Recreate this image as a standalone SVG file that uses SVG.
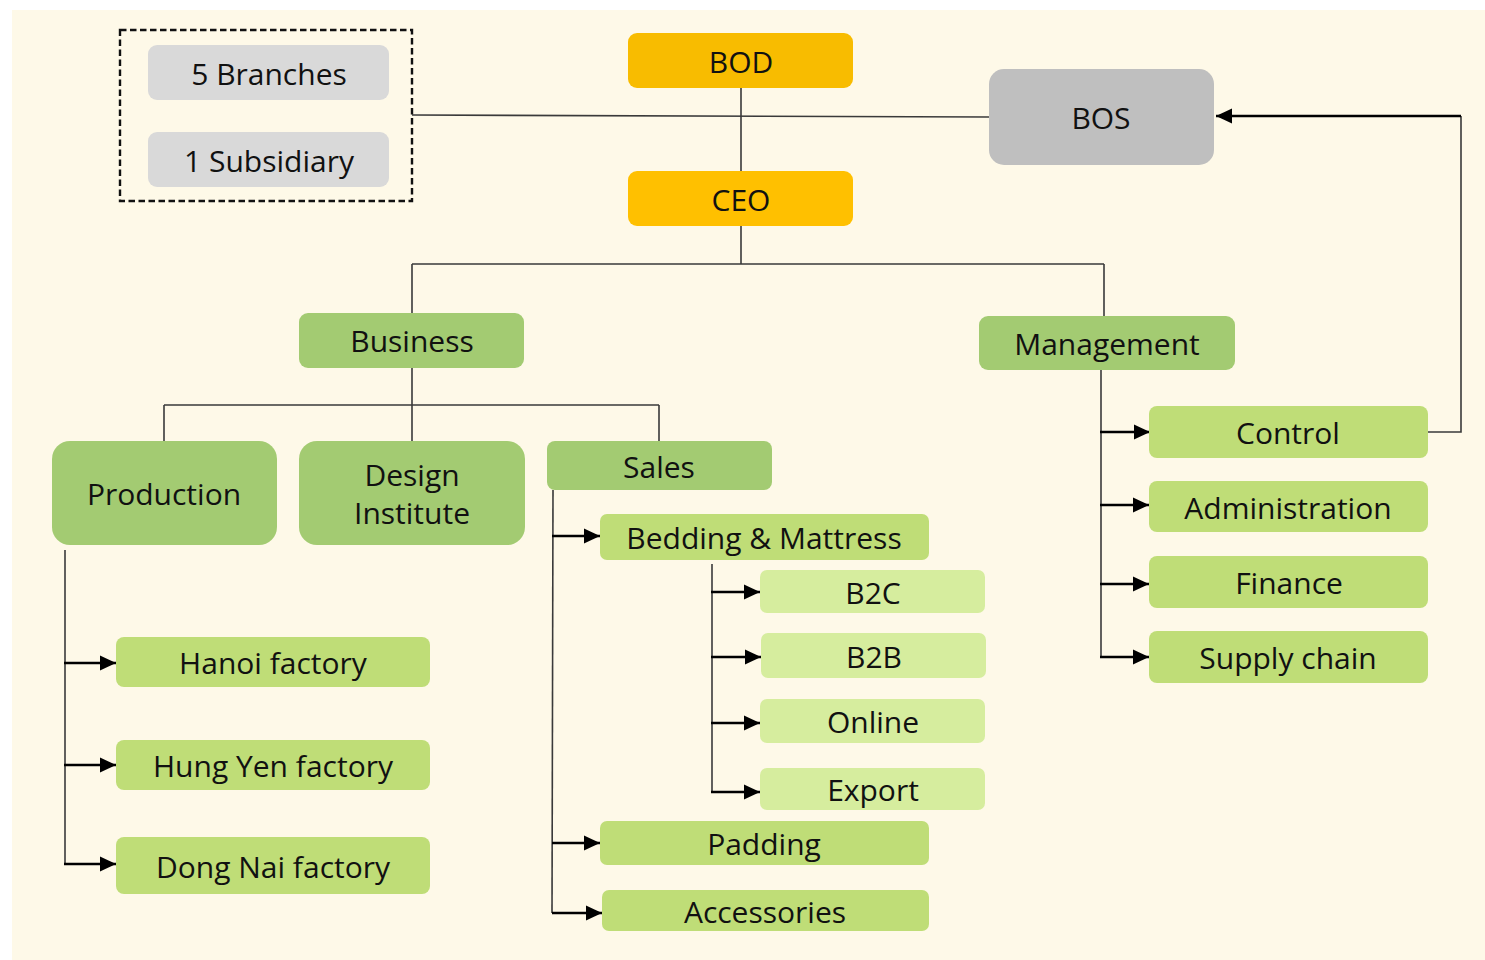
<svg xmlns="http://www.w3.org/2000/svg" width="1485" height="960" viewBox="0 0 1485 960">
<defs>
<style>
text{font-family:"Open Sans","Noto Sans","Liberation Sans",sans-serif;font-size:30px;fill:#111;text-anchor:middle}
.l2{fill:#A3CB72}
.l3{fill:#BFDD77}
.l4{fill:#D6ED9E}
.gr{fill:#D9D9D9}
.ln{fill:none;stroke:#3a3a3a;stroke-width:1.6}
.ar{fill:none;stroke:#000;stroke-width:2.6;marker-end:url(#ah)}
</style>
<marker id="ah" markerUnits="userSpaceOnUse" markerWidth="17" markerHeight="17" viewBox="0 0 17 17" refX="16" refY="8.5" orient="auto">
<path d="M0,1 L16,8.5 L0,16 z" fill="#000"/>
</marker>
</defs>
<rect x="0" y="0" width="1485" height="960" fill="#fff"/>
<rect x="12" y="10" width="1473" height="950" fill="#FEF9E8"/>

<g id="connectors">
<path class="ln" d="M412,115 L989,117"/>
<path class="ln" d="M741,88 V171 M741,226 V264 M412,264 H1104 M412,264 V313 M1104,264 V316"/>
<path class="ln" d="M412,368 V441 M164,405 H659 M164,405 V441 M659,405 V441"/>
<path class="ln" d="M1428,432 H1461 V116"/>
<path class="ar" d="M1461,116 H1216"/>
<path class="ln" d="M65,550 V864"/>
<path class="ar" d="M64,663 H116"/>
<path class="ar" d="M64,765 H116"/>
<path class="ar" d="M64,864 H116"/>
<path class="ln" d="M553,490 L552,913"/>
<path class="ar" d="M552,536 H600"/>
<path class="ar" d="M552,843 H600"/>
<path class="ar" d="M552,913 H602"/>
<path class="ln" d="M712,564 V792"/>
<path class="ar" d="M711,592 H760"/>
<path class="ar" d="M711,657 H761"/>
<path class="ar" d="M711,723 H760"/>
<path class="ar" d="M711,792 H760"/>
<path class="ln" d="M1101,370 V658"/>
<path class="ar" d="M1100,432 H1150"/>
<path class="ar" d="M1100,505 H1149"/>
<path class="ar" d="M1100,584 H1149"/>
<path class="ar" d="M1100,657 H1149"/>
</g>

<g id="group-box">
<rect x="120" y="30" width="292" height="171" fill="none" stroke="#111" stroke-width="2.4" stroke-dasharray="6.5,3.5"/>
</g>
<g id="branches"><rect class="gr" x="148" y="45" width="241" height="55" rx="9"/><text x="269" y="85">5 Branches</text></g>
<g id="subsidiary"><rect class="gr" x="148" y="132" width="241" height="55" rx="9"/><text x="269" y="172">1 Subsidiary</text></g>

<g id="bod"><rect x="628" y="33" width="225" height="55" rx="9" fill="#F8BC00"/><text x="741" y="73">BOD</text></g>
<g id="ceo"><rect x="628" y="171" width="225" height="55" rx="9" fill="#FFC000"/><text x="741" y="211">CEO</text></g>
<g id="bos"><rect x="989" y="69" width="225" height="96" rx="15" fill="#BFBFBF"/><text x="1101" y="129">BOS</text></g>

<g id="business"><rect class="l2" x="299" y="313" width="225" height="55" rx="9"/><text x="412" y="352">Business</text></g>
<g id="management"><rect class="l2" x="979" y="316" width="256" height="54" rx="9"/><text x="1107" y="355">Management</text></g>

<g id="production"><rect class="l2" x="52" y="441" width="225" height="104" rx="18"/><text x="164" y="505">Production</text></g>
<g id="design"><rect class="l2" x="299" y="441" width="226" height="104" rx="18"/><text x="412" y="486">Design</text><text x="412" y="524">Institute</text></g>
<g id="sales"><rect class="l2" x="547" y="441" width="225" height="49" rx="8"/><text x="659" y="478">Sales</text></g>

<g id="hanoi"><rect class="l3" x="116" y="637" width="314" height="50" rx="8"/><text x="273" y="674">Hanoi factory</text></g>
<g id="hungyen"><rect class="l3" x="116" y="740" width="314" height="50" rx="8"/><text x="273" y="777">Hung Yen factory</text></g>
<g id="dongnai"><rect class="l3" x="116" y="837" width="314" height="57" rx="8"/><text x="273" y="878">Dong Nai factory</text></g>

<g id="bedding"><rect class="l3" x="600" y="514" width="329" height="46" rx="7"/><text x="764" y="549">Bedding &amp; Mattress</text></g>
<g id="b2c"><rect class="l4" x="760" y="570" width="225" height="43" rx="7"/><text x="873" y="604">B2C</text></g>
<g id="b2b"><rect class="l4" x="761" y="633" width="225" height="45" rx="7"/><text x="874" y="668">B2B</text></g>
<g id="online"><rect class="l4" x="760" y="699" width="225" height="44" rx="7"/><text x="873" y="733">Online</text></g>
<g id="export"><rect class="l4" x="760" y="768" width="225" height="42" rx="7"/><text x="873" y="801">Export</text></g>
<g id="padding"><rect class="l3" x="600" y="821" width="329" height="44" rx="7"/><text x="764" y="855">Padding</text></g>
<g id="accessories"><rect class="l3" x="602" y="890" width="327" height="41" rx="7"/><text x="765" y="923">Accessories</text></g>

<g id="control"><rect class="l3" x="1149" y="406" width="279" height="52" rx="8"/><text x="1288" y="444">Control</text></g>
<g id="administration"><rect class="l3" x="1149" y="481" width="279" height="51" rx="8"/><text x="1288" y="519">Administration</text></g>
<g id="finance"><rect class="l3" x="1149" y="556" width="279" height="52" rx="8"/><text x="1289" y="594">Finance</text></g>
<g id="supply"><rect class="l3" x="1149" y="631" width="279" height="52" rx="8"/><text x="1288" y="669">Supply chain</text></g>
</svg>
